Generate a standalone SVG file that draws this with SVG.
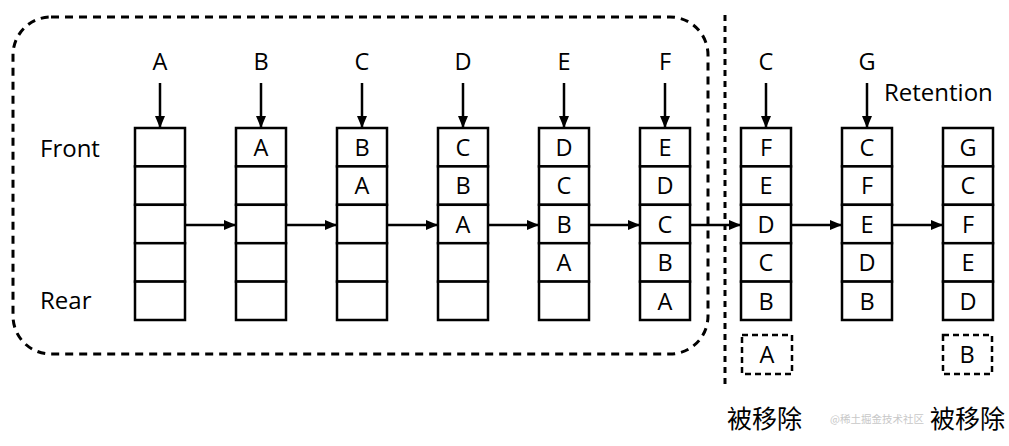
<svg xmlns="http://www.w3.org/2000/svg" width="1009" height="446" viewBox="0 0 1009 446">
<defs>
<marker id="ah" markerUnits="userSpaceOnUse" markerWidth="12" markerHeight="10" refX="11" refY="5" orient="auto">
<path d="M0,0 L12,5 L0,10 z" fill="#000"/>
</marker>
<style>
.cell{fill:#fff;stroke:#000;stroke-width:2.5}
.t{font-family:"Open Sans","Noto Sans","Liberation Sans",sans-serif;font-size:23.5px;fill:#000;text-anchor:middle}
.lbl{font-family:"Open Sans","Noto Sans","Liberation Sans",sans-serif;font-size:24px;fill:#000}
.cn{font-family:"Noto Sans CJK SC",sans-serif;font-size:25px;fill:#000}
.ar{stroke:#000;stroke-width:2.5;fill:none;marker-end:url(#ah)}
.dash{fill:none;stroke:#000;stroke-width:3;stroke-dasharray:8 6}
.dbox{fill:none;stroke:#000;stroke-width:2.5;stroke-dasharray:6 4}
</style>
</defs>
<rect width="1009" height="446" fill="#fff"/>
<g id="window">
<rect class="dash" x="13" y="17" width="695" height="337" rx="38" ry="38"/>
</g>
<g id="divider">
<line x1="725" y1="15" x2="725" y2="384" stroke="#000" stroke-width="3" stroke-dasharray="6 5"/>
</g>
<g id="labels">
<text class="lbl" x="40" y="157">Front</text>
<text class="lbl" x="40" y="309">Rear</text>
<text class="lbl" x="884" y="101" font-size="25">Retention</text>
<text class="cn" x="727" y="428">被移除</text>
<text x="830" y="423" font-family="Noto Sans CJK SC,sans-serif" font-size="10.5" fill="#c8c8c8">@稀土掘金技术社区</text>
<text class="cn" x="930" y="428">被移除</text>
</g>
<g id="connectors">
<line class="ar" x1="160" y1="83" x2="160" y2="127"/>
<line class="ar" x1="261" y1="83" x2="261" y2="127"/>
<line class="ar" x1="362" y1="83" x2="362" y2="127"/>
<line class="ar" x1="463" y1="83" x2="463" y2="127"/>
<line class="ar" x1="564" y1="83" x2="564" y2="127"/>
<line class="ar" x1="665" y1="83" x2="665" y2="127"/>
<line class="ar" x1="766" y1="83" x2="766" y2="127"/>
<line class="ar" x1="867" y1="83" x2="867" y2="127"/>
<line class="ar" x1="185" y1="225" x2="235" y2="225"/>
<line class="ar" x1="286" y1="225" x2="336" y2="225"/>
<line class="ar" x1="387" y1="225" x2="437" y2="225"/>
<line class="ar" x1="488" y1="225" x2="538" y2="225"/>
<line class="ar" x1="589" y1="225" x2="639" y2="225"/>
<line class="ar" x1="690" y1="225" x2="740" y2="225"/>
<line class="ar" x1="791" y1="225" x2="841" y2="225"/>
<line class="ar" x1="892" y1="225" x2="942" y2="225"/>
</g>
<g id="step1">
<text class="t" x="160" y="70">A</text>
<rect class="cell" x="135" y="128" width="50" height="38.4"/>
<rect class="cell" x="135" y="166.4" width="50" height="38.4"/>
<rect class="cell" x="135" y="204.8" width="50" height="38.4"/>
<rect class="cell" x="135" y="243.2" width="50" height="38.4"/>
<rect class="cell" x="135" y="281.6" width="50" height="38.4"/>
</g>
<g id="step2">
<text class="t" x="261" y="70">B</text>
<rect class="cell" x="236" y="128" width="50" height="38.4"/>
<rect class="cell" x="236" y="166.4" width="50" height="38.4"/>
<rect class="cell" x="236" y="204.8" width="50" height="38.4"/>
<rect class="cell" x="236" y="243.2" width="50" height="38.4"/>
<rect class="cell" x="236" y="281.6" width="50" height="38.4"/>
<text class="t" x="261" y="156">A</text>
</g>
<g id="step3">
<text class="t" x="362" y="70">C</text>
<rect class="cell" x="337" y="128" width="50" height="38.4"/>
<rect class="cell" x="337" y="166.4" width="50" height="38.4"/>
<rect class="cell" x="337" y="204.8" width="50" height="38.4"/>
<rect class="cell" x="337" y="243.2" width="50" height="38.4"/>
<rect class="cell" x="337" y="281.6" width="50" height="38.4"/>
<text class="t" x="362" y="156">B</text>
<text class="t" x="362" y="194.4">A</text>
</g>
<g id="step4">
<text class="t" x="463" y="70">D</text>
<rect class="cell" x="438" y="128" width="50" height="38.4"/>
<rect class="cell" x="438" y="166.4" width="50" height="38.4"/>
<rect class="cell" x="438" y="204.8" width="50" height="38.4"/>
<rect class="cell" x="438" y="243.2" width="50" height="38.4"/>
<rect class="cell" x="438" y="281.6" width="50" height="38.4"/>
<text class="t" x="463" y="156">C</text>
<text class="t" x="463" y="194.4">B</text>
<text class="t" x="463" y="232.8">A</text>
</g>
<g id="step5">
<text class="t" x="564" y="70">E</text>
<rect class="cell" x="539" y="128" width="50" height="38.4"/>
<rect class="cell" x="539" y="166.4" width="50" height="38.4"/>
<rect class="cell" x="539" y="204.8" width="50" height="38.4"/>
<rect class="cell" x="539" y="243.2" width="50" height="38.4"/>
<rect class="cell" x="539" y="281.6" width="50" height="38.4"/>
<text class="t" x="564" y="156">D</text>
<text class="t" x="564" y="194.4">C</text>
<text class="t" x="564" y="232.8">B</text>
<text class="t" x="564" y="271.2">A</text>
</g>
<g id="step6">
<text class="t" x="665" y="70">F</text>
<rect class="cell" x="640" y="128" width="50" height="38.4"/>
<rect class="cell" x="640" y="166.4" width="50" height="38.4"/>
<rect class="cell" x="640" y="204.8" width="50" height="38.4"/>
<rect class="cell" x="640" y="243.2" width="50" height="38.4"/>
<rect class="cell" x="640" y="281.6" width="50" height="38.4"/>
<text class="t" x="665" y="156">E</text>
<text class="t" x="665" y="194.4">D</text>
<text class="t" x="665" y="232.8">C</text>
<text class="t" x="665" y="271.2">B</text>
<text class="t" x="665" y="309.6">A</text>
</g>
<g id="step7">
<text class="t" x="766" y="70">C</text>
<rect class="cell" x="741" y="128" width="50" height="38.4"/>
<rect class="cell" x="741" y="166.4" width="50" height="38.4"/>
<rect class="cell" x="741" y="204.8" width="50" height="38.4"/>
<rect class="cell" x="741" y="243.2" width="50" height="38.4"/>
<rect class="cell" x="741" y="281.6" width="50" height="38.4"/>
<text class="t" x="766" y="156">F</text>
<text class="t" x="766" y="194.4">E</text>
<text class="t" x="766" y="232.8">D</text>
<text class="t" x="766" y="271.2">C</text>
<text class="t" x="766" y="309.6">B</text>
<rect class="dbox" x="742" y="335" width="50" height="39"/>
<text class="t" x="767" y="363">A</text>
</g>
<g id="step8">
<text class="t" x="867" y="70">G</text>
<rect class="cell" x="842" y="128" width="50" height="38.4"/>
<rect class="cell" x="842" y="166.4" width="50" height="38.4"/>
<rect class="cell" x="842" y="204.8" width="50" height="38.4"/>
<rect class="cell" x="842" y="243.2" width="50" height="38.4"/>
<rect class="cell" x="842" y="281.6" width="50" height="38.4"/>
<text class="t" x="867" y="156">C</text>
<text class="t" x="867" y="194.4">F</text>
<text class="t" x="867" y="232.8">E</text>
<text class="t" x="867" y="271.2">D</text>
<text class="t" x="867" y="309.6">B</text>
</g>
<g id="step9">
<rect class="cell" x="943" y="128" width="50" height="38.4"/>
<rect class="cell" x="943" y="166.4" width="50" height="38.4"/>
<rect class="cell" x="943" y="204.8" width="50" height="38.4"/>
<rect class="cell" x="943" y="243.2" width="50" height="38.4"/>
<rect class="cell" x="943" y="281.6" width="50" height="38.4"/>
<text class="t" x="968" y="156">G</text>
<text class="t" x="968" y="194.4">C</text>
<text class="t" x="968" y="232.8">F</text>
<text class="t" x="968" y="271.2">E</text>
<text class="t" x="968" y="309.6">D</text>
<rect class="dbox" x="943" y="335" width="49" height="39"/>
<text class="t" x="967" y="363">B</text>
</g>
</svg>
